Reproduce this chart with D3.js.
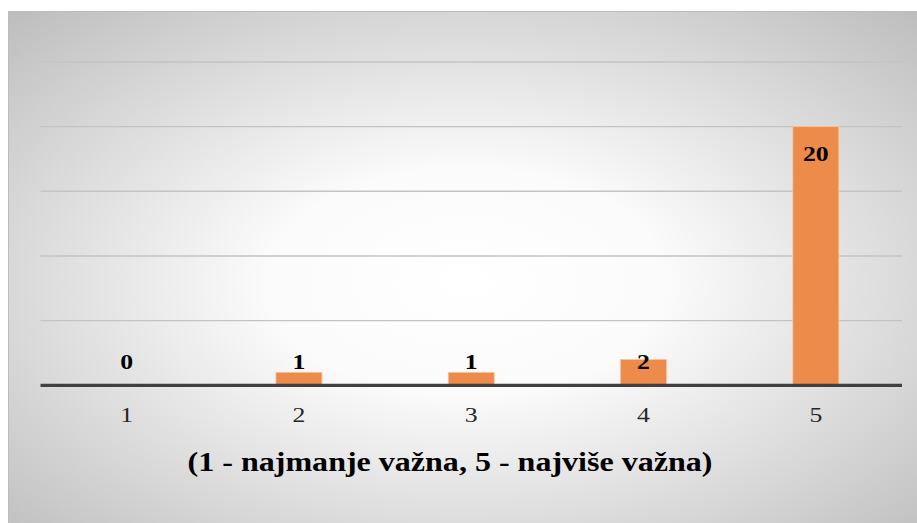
<!DOCTYPE html>
<html><head><meta charset="utf-8">
<script src="https://cdn.jsdelivr.net/npm/d3@7"></script>
</head><body style="margin:0;padding:0;overflow:hidden;background:#fff">
<svg id="c" width="917" height="523" font-family="Liberation Serif"></svg>
<script>
const categories = ["1","2","3","4","5"];
const values = [0,1,1,2,20];
const yTicks = [0,5,10,15,20,25];
const axisTitle = "(1 - najmanje važna, 5 - najviše važna)";

const svg = d3.select("#c");
const font = "Liberation Serif";
const sx = 1.17; // horizontal stretch of the original picture

const defs = svg.append("defs");
const grad = defs.append("radialGradient").attr("id","bg")
  .attr("cx","0.5").attr("cy","0.52").attr("r","0.72");
grad.append("stop").attr("offset","0").attr("stop-color","#ffffff");
grad.append("stop").attr("offset","0.3").attr("stop-color","#fbfbfb");
grad.append("stop").attr("offset","1").attr("stop-color","#bdbdbd");

svg.append("rect").attr("x",8.5).attr("y",11.5).attr("width",915).attr("height",520)
  .attr("fill","url(#bg)").attr("stroke","#bcbcbc").attr("stroke-width",1);

const x = d3.scaleBand().domain(categories).range([40.5,902]).paddingInner(0.733).paddingOuter(0.3665);
const y = d3.scaleLinear().domain([0,25]).range([385.3,62]);

svg.append("g").selectAll("line").data(yTicks.filter(d=>d>0)).join("line")
  .attr("x1",40.5).attr("x2",902)
  .attr("y1",d=>y(d)).attr("y2",d=>y(d))
  .attr("stroke","#c3c3c3").attr("stroke-width",1.4);

svg.append("g").selectAll("rect").data(values).join("rect")
  .attr("x",(d,i)=>x(categories[i]))
  .attr("width",x.bandwidth())
  .attr("y",d=>y(d))
  .attr("height",d=>y(0)-y(d))
  .attr("fill","#ed8b4b")
  .attr("stroke","#f6c6a3").attr("stroke-width",0.8)
  .style("display",d=>d>0?null:"none");

// baseline
svg.append("line").attr("x1",40.5).attr("x2",902).attr("y1",y(0)).attr("y2",y(0))
  .attr("stroke","#404040").attr("stroke-width",3.2);

// category labels
svg.append("g").selectAll("text").data(categories).join("text")
  .attr("transform",d=>`translate(${x(d)+x.bandwidth()/2},${y(0)+37}) scale(${sx},1)`)
  .attr("text-anchor","middle")
  .attr("font-family",font).attr("font-size",22)
  .attr("fill","#262626").text(d=>d);

// data labels
svg.append("g").selectAll("text").data(values).join("text")
  .attr("transform",(d,i)=>`translate(${x(categories[i])+x.bandwidth()/2},${Math.min(y(d)+34, y(0)-16)}) scale(${sx},1)`)
  .attr("text-anchor","middle")
  .attr("font-family",font).attr("font-weight","bold").attr("font-size",22)
  .attr("fill","#000").text(d=>d);

// axis title
svg.append("text")
  .attr("transform",`translate(450,471) scale(1.165,1)`)
  .attr("text-anchor","middle")
  .attr("font-family",font).attr("font-weight","bold").attr("font-size",27.5)
  .attr("fill","#000")
  .text(axisTitle);
</script>
</body></html>
